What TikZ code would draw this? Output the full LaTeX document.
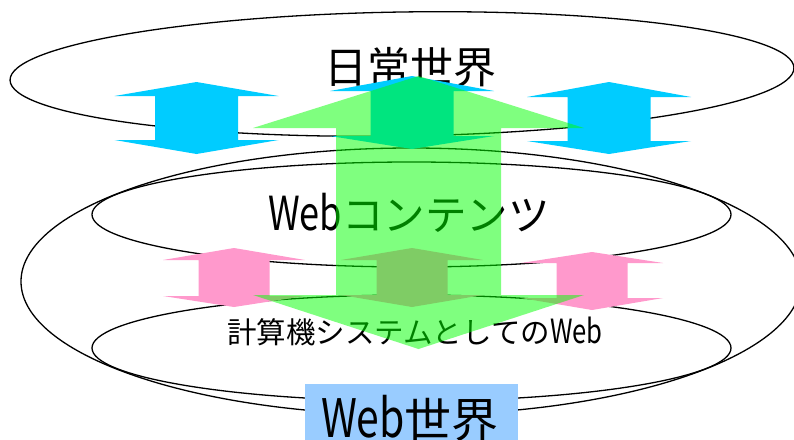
\documentclass[tikz,border=0pt]{standalone}
\usepackage{fontspec}
\setmainfont{Noto Sans CJK JP}
\usepackage{graphicx}
\definecolor{arrblue}{HTML}{00CCFF}
\definecolor{arrpink}{HTML}{FF99CC}
\definecolor{arrgreen}{HTML}{00FF00}
\definecolor{boxblue}{HTML}{99CCFF}
\newcommand\web{\scalebox{0.87}[1.13]{Web}}
% #1 style, #2 cx, #3 ytop, #4 upper wing y, #5 lower wing y, #6 ybot, #7 wing half width, #8 shaft half width
\newcommand\dblarrow[8]{%
  \fill[#1] (#2,#3) -- ({#2+#7},#4) -- ({#2+#8},#4) -- ({#2+#8},#5) -- ({#2+#7},#5)
    -- (#2,#6) -- ({#2-#7},#5) -- ({#2-#8},#5) -- ({#2-#8},#4) -- ({#2-#7},#4) -- cycle;}
\tikzset{
  ring/.style={draw=black, line width=1.3pt},
  bluearr/.style={fill=arrblue},
  pinkarr/.style={fill=arrpink},
  greenarr/.style={fill=arrgreen, fill opacity=0.5},
  label/.style={inner sep=0pt, text=black}
}
\begin{document}
\begin{tikzpicture}[x=1pt, y=-1pt]
\clip (0,0) rectangle (794,439);
\fill[white] (0,0) rectangle (794,439);
% ellipses
\draw[ring, rotate around={0.9:(402,74)}] (402,74) ellipse [x radius=392pt, y radius=62pt];
\draw[ring] (411,281.5) ellipse [x radius=390pt, y radius=133.5pt];
\draw[ring] (411.5,214.5) ellipse [x radius=319.5pt, y radius=52.5pt];
\draw[ring] (411.5,348) ellipse [x radius=319.5pt, y radius=53pt];
% texts
\node[label, font=\fontsize{43}{49}\selectfont] (daily) at (410,67) {日常世界};
\node[label, font=\fontsize{41.5}{48}\selectfont] (contents) at (409,213) {\web コンテンツ};
\node[label, font=\fontsize{29.5}{34}\selectfont] (system) at (415,331) {計算機システムとしての\web};
% blue arrows
\dblarrow{bluearr}{196.5}{82}{96}{140}{154}{82}{41.5}
\dblarrow{bluearr}{609}{82}{97}{141}{154}{82}{41.5}
\dblarrow{bluearr}{412}{76}{91}{136}{149}{82}{41.5}
% pink arrows
\dblarrow{pinkarr}{234}{248}{260}{296}{307}{71}{35.5}
\dblarrow{pinkarr}{592}{252}{263}{298}{310}{71}{35.5}
\dblarrow{pinkarr}{412}{248}{260}{295}{307}{71}{35.5}
% Web world box
\node[fill=boxblue, minimum width=213pt, minimum height=80pt, anchor=north west, inner sep=0pt] (webbox) at (305,384) {};
\node[label, font=\fontsize{47}{53}\selectfont] (webworld) at (410,418) {\web 世界};
% big green arrow on top
\dblarrow{greenarr}{418.5}{76}{128}{295}{349}{165.5}{82.5}
\end{tikzpicture}
\end{document}
